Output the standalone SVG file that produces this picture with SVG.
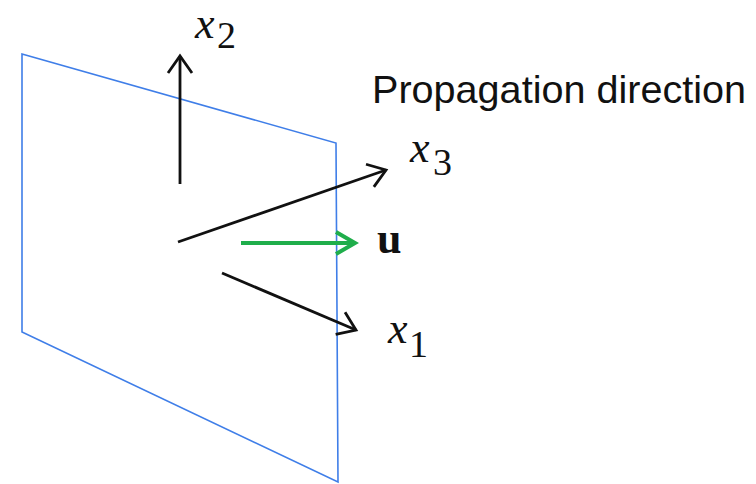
<svg xmlns="http://www.w3.org/2000/svg" width="756" height="484" viewBox="0 0 756 484">
<style>
.plane{fill:none;stroke:#3f7ee8;stroke-width:1.6}
.ax{stroke:#111;stroke-width:2.8;fill:none}
.gr{stroke:#1fae4b;stroke-width:4;fill:none}
.m{font-family:"Liberation Serif","Times New Roman",serif;font-style:italic;font-size:44px;fill:#111}
.sub{font-family:"Liberation Serif","Times New Roman",serif;font-size:38px;fill:#111}
.lbl{font-family:"Liberation Sans",Arial,sans-serif;font-size:39.6px;fill:#111}
</style>
<defs>
<marker id="ah" markerUnits="userSpaceOnUse" markerWidth="30" markerHeight="30" viewBox="-20 -15 24 30" refX="0" refY="0" orient="auto">
<path d="M-17,-12 L0,0 L-17,12" fill="none" stroke="#111" stroke-width="2.8"/>
</marker>
<marker id="ahg" markerUnits="userSpaceOnUse" markerWidth="30" markerHeight="30" viewBox="-22 -15 26 30" refX="0" refY="0" orient="auto">
<path d="M-19,-11 L0,0 L-19,11" fill="none" stroke="#1fae4b" stroke-width="4"/>
</marker>
</defs>
<g id="plane">
<polygon class="plane" points="22,54 336,143 338,482 22,332"/>
</g>
<g id="connectors">
<line class="ax" x1="180" y1="184" x2="180" y2="56" marker-end="url(#ah)"/>
<line class="ax" x1="178" y1="242" x2="386" y2="170" marker-end="url(#ah)"/>
<line class="ax" x1="222" y1="273" x2="356" y2="330" marker-end="url(#ah)"/>
<line class="gr" x1="241" y1="243" x2="355" y2="243" marker-end="url(#ahg)"/>
</g>
<g id="label-x2"><text x="195" y="38" class="m" font-size="40">x</text><text x="217" y="48" class="sub">2</text></g>
<g id="label-x3"><text x="410" y="162" class="m">x</text><text x="433" y="175" class="sub">3</text></g>
<g id="label-u"><text x="377" y="253" font-family="Liberation Serif,'Times New Roman',serif" font-weight="bold" font-size="44" fill="#111">u</text></g>
<g id="label-x1"><text x="388" y="343" class="m">x</text><text x="409" y="357" class="sub">1</text></g>
<g id="label-prop"><text x="372" y="103" class="lbl">Propagation direction</text></g>
</svg>
